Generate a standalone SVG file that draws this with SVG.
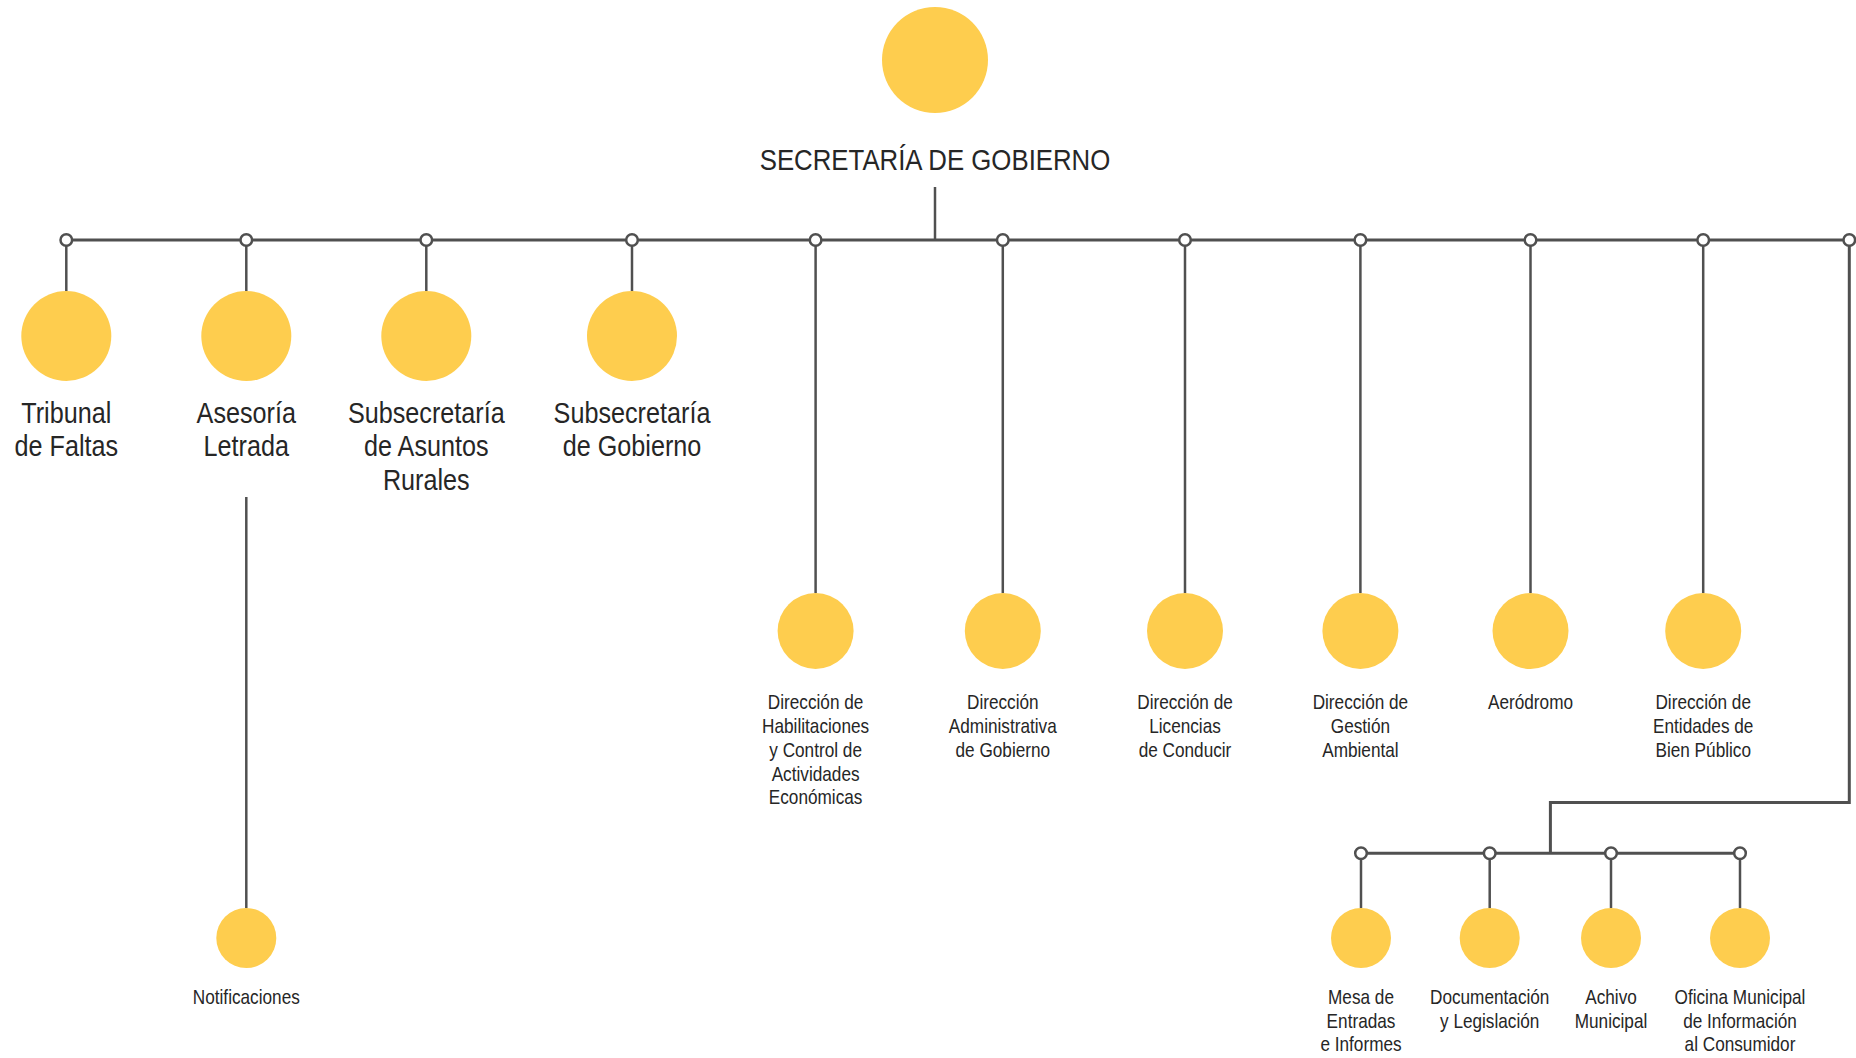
<svg xmlns="http://www.w3.org/2000/svg" width="1856" height="1058" viewBox="0 0 1856 1058">
<style>
.node{fill:#FECD4E}
.bus{fill:none;stroke:#505050;stroke-width:3}
.drop{fill:none;stroke:#505050;stroke-width:2.5}
.ring{fill:#fff;stroke:#505050;stroke-width:2.5}
text{font-family:"Liberation Sans",Arial,sans-serif;fill:#262626;text-anchor:middle}
.big{font-size:30px}
.small{font-size:20px}
</style>
<rect width="1856" height="1058" fill="#fff"/>
<g id="connectors">
<line class="drop" x1="935" y1="187" x2="935" y2="240"/>
<line class="bus" x1="66.3" y1="240" x2="1849.3" y2="240"/>
<line class="drop" x1="66.3" y1="240" x2="66.3" y2="291"/>
<line class="drop" x1="246.3" y1="240" x2="246.3" y2="291"/>
<line class="drop" x1="426.3" y1="240" x2="426.3" y2="291"/>
<line class="drop" x1="632" y1="240" x2="632" y2="291"/>
<line class="drop" x1="815.6" y1="240" x2="815.6" y2="593"/>
<line class="drop" x1="1002.8" y1="240" x2="1002.8" y2="593"/>
<line class="drop" x1="1185" y1="240" x2="1185" y2="593"/>
<line class="drop" x1="1360.4" y1="240" x2="1360.4" y2="593"/>
<line class="drop" x1="1530.5" y1="240" x2="1530.5" y2="593"/>
<line class="drop" x1="1703.2" y1="240" x2="1703.2" y2="593"/>
<line class="drop" x1="246.3" y1="497" x2="246.3" y2="908"/>
<path class="bus" d="M1849.3 240 V802.5 H1550.4 V853.3"/>
<line class="bus" x1="1361" y1="853.3" x2="1740" y2="853.3"/>
<line class="drop" x1="1361" y1="853.3" x2="1361" y2="908"/>
<line class="drop" x1="1489.7" y1="853.3" x2="1489.7" y2="908"/>
<line class="drop" x1="1611" y1="853.3" x2="1611" y2="908"/>
<line class="drop" x1="1740" y1="853.3" x2="1740" y2="908"/>
<circle class="ring" cx="66.3" cy="240" r="5.8"/>
<circle class="ring" cx="246.3" cy="240" r="5.8"/>
<circle class="ring" cx="426.3" cy="240" r="5.8"/>
<circle class="ring" cx="632" cy="240" r="5.8"/>
<circle class="ring" cx="815.6" cy="240" r="5.8"/>
<circle class="ring" cx="1002.8" cy="240" r="5.8"/>
<circle class="ring" cx="1185" cy="240" r="5.8"/>
<circle class="ring" cx="1360.4" cy="240" r="5.8"/>
<circle class="ring" cx="1530.5" cy="240" r="5.8"/>
<circle class="ring" cx="1703.2" cy="240" r="5.8"/>
<circle class="ring" cx="1849.3" cy="240" r="5.8"/>
<circle class="ring" cx="1361" cy="853.3" r="5.8"/>
<circle class="ring" cx="1489.7" cy="853.3" r="5.8"/>
<circle class="ring" cx="1611" cy="853.3" r="5.8"/>
<circle class="ring" cx="1740" cy="853.3" r="5.8"/>
</g>
<g id="secretaria">
<circle class="node" cx="935" cy="60" r="53"/>
<text class="big" transform="translate(935,0) scale(0.86,1)" x="0" y="170">SECRETARÍA DE GOBIERNO</text>
</g>
<g id="tribunal">
<circle class="node" cx="66.3" cy="336" r="45"/>
<text class="big" transform="translate(66.3,0) scale(0.84,1)"><tspan x="0" y="423">Tribunal</tspan><tspan x="0" y="456.5">de Faltas</tspan></text>
</g>
<g id="asesoria">
<circle class="node" cx="246.3" cy="336" r="45"/>
<text class="big" transform="translate(246.3,0) scale(0.84,1)"><tspan x="0" y="423">Asesoría</tspan><tspan x="0" y="456.5">Letrada</tspan></text>
</g>
<g id="sub-rurales">
<circle class="node" cx="426.3" cy="336" r="45"/>
<text class="big" transform="translate(426.3,0) scale(0.84,1)"><tspan x="0" y="423">Subsecretaría</tspan><tspan x="0" y="456.5">de Asuntos</tspan><tspan x="0" y="490">Rurales</tspan></text>
</g>
<g id="sub-gobierno">
<circle class="node" cx="632" cy="336" r="45"/>
<text class="big" transform="translate(632,0) scale(0.84,1)"><tspan x="0" y="423">Subsecretaría</tspan><tspan x="0" y="456.5">de Gobierno</tspan></text>
</g>
<g id="habilitaciones">
<circle class="node" cx="815.6" cy="631" r="38"/>
<text class="small" transform="translate(815.6,0) scale(0.86,1)"><tspan x="0" y="709.5">Dirección de</tspan><tspan x="0" y="733.2">Habilitaciones</tspan><tspan x="0" y="756.9">y Control de</tspan><tspan x="0" y="780.6">Actividades</tspan><tspan x="0" y="804.3">Económicas</tspan></text>
</g>
<g id="administrativa">
<circle class="node" cx="1002.8" cy="631" r="38"/>
<text class="small" transform="translate(1002.8,0) scale(0.86,1)"><tspan x="0" y="709.5">Dirección</tspan><tspan x="0" y="733.2">Administrativa</tspan><tspan x="0" y="756.9">de Gobierno</tspan></text>
</g>
<g id="licencias">
<circle class="node" cx="1185" cy="631" r="38"/>
<text class="small" transform="translate(1185,0) scale(0.86,1)"><tspan x="0" y="709.5">Dirección de</tspan><tspan x="0" y="733.2">Licencias</tspan><tspan x="0" y="756.9">de Conducir</tspan></text>
</g>
<g id="ambiental">
<circle class="node" cx="1360.4" cy="631" r="38"/>
<text class="small" transform="translate(1360.4,0) scale(0.86,1)"><tspan x="0" y="709.5">Dirección de</tspan><tspan x="0" y="733.2">Gestión</tspan><tspan x="0" y="756.9">Ambiental</tspan></text>
</g>
<g id="aerodromo">
<circle class="node" cx="1530.5" cy="631" r="38"/>
<text class="small" transform="translate(1530.5,0) scale(0.86,1)"><tspan x="0" y="709.5">Aeródromo</tspan></text>
</g>
<g id="entidades">
<circle class="node" cx="1703.2" cy="631" r="38"/>
<text class="small" transform="translate(1703.2,0) scale(0.86,1)"><tspan x="0" y="709.5">Dirección de</tspan><tspan x="0" y="733.2">Entidades de</tspan><tspan x="0" y="756.9">Bien Público</tspan></text>
</g>
<g id="notificaciones">
<circle class="node" cx="246.3" cy="938" r="30"/>
<text class="small" transform="translate(246.3,0) scale(0.86,1)"><tspan x="0" y="1004">Notificaciones</tspan></text>
</g>
<g id="mesa">
<circle class="node" cx="1361" cy="938" r="30"/>
<text class="small" transform="translate(1361,0) scale(0.86,1)"><tspan x="0" y="1004">Mesa de</tspan><tspan x="0" y="1027.7">Entradas</tspan><tspan x="0" y="1051.4">e Informes</tspan></text>
</g>
<g id="documentacion">
<circle class="node" cx="1489.7" cy="938" r="30"/>
<text class="small" transform="translate(1489.7,0) scale(0.86,1)"><tspan x="0" y="1004">Documentación</tspan><tspan x="0" y="1027.7">y Legislación</tspan></text>
</g>
<g id="archivo">
<circle class="node" cx="1611" cy="938" r="30"/>
<text class="small" transform="translate(1611,0) scale(0.86,1)"><tspan x="0" y="1004">Achivo</tspan><tspan x="0" y="1027.7">Municipal</tspan></text>
</g>
<g id="consumidor">
<circle class="node" cx="1740" cy="938" r="30"/>
<text class="small" transform="translate(1740,0) scale(0.86,1)"><tspan x="0" y="1004">Oficina Municipal</tspan><tspan x="0" y="1027.7">de Información</tspan><tspan x="0" y="1051.4">al Consumidor</tspan></text>
</g>
</svg>
